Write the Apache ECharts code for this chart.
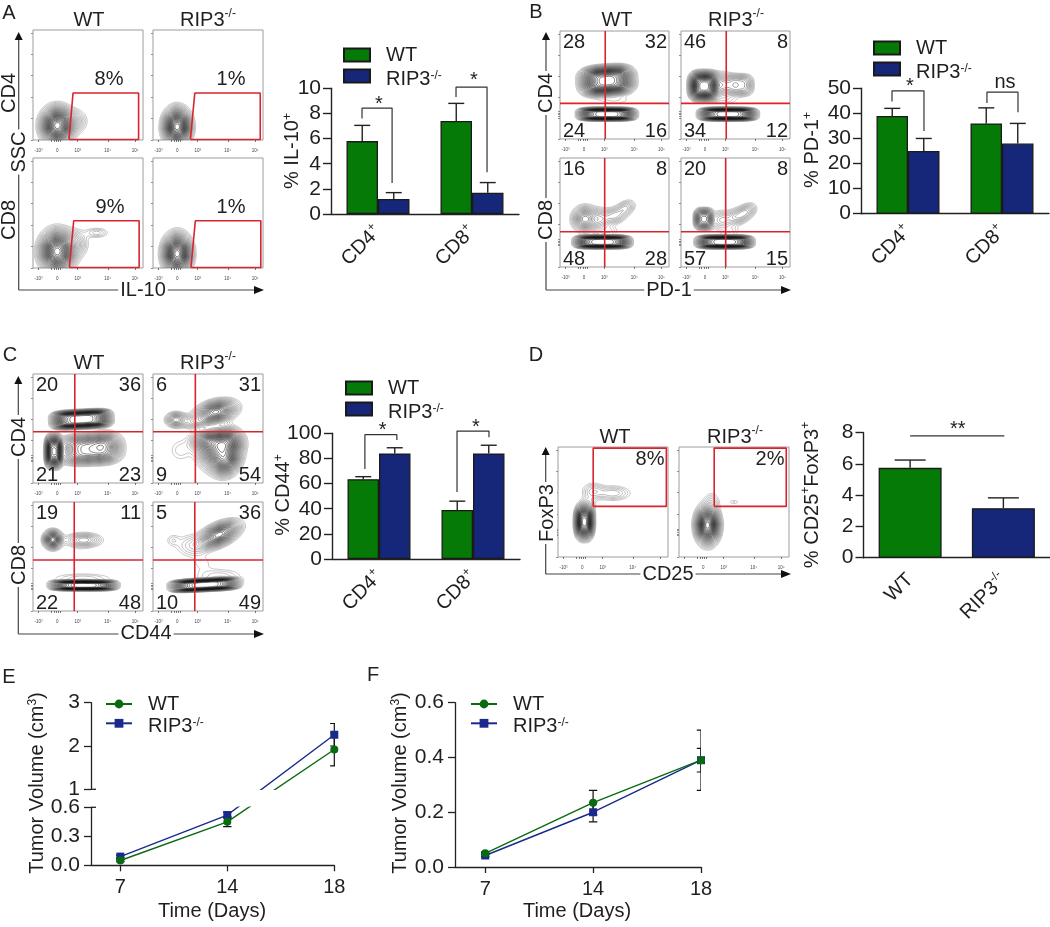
<!DOCTYPE html>
<html><head><meta charset="utf-8">
<style>html,body{margin:0;padding:0;background:#fff}#c{width:1050px;height:927px;filter:blur(0.35px)}</style>
<script src="https://cdn.jsdelivr.net/npm/echarts@6/dist/echarts.min.js"></script>
</head><body><div id="c"></div>
<script>
// ---------- DATA ----------
const barCats = ['CD4', 'CD8'];
const il10WT = [5.8, 7.4], il10WTTop = [7.05, 8.8], il10RIP = [1.2, 1.7], il10RIPTop = [1.7, 2.5];
const pd1WT = [39, 36], pd1WTTop = [42, 42.2], pd1RIP = [25, 28], pd1RIPTop = [30, 36];
const cd44WT = [63.5, 39], cd44WTTop = [65.5, 46], cd44RIP = [84, 84], cd44RIPTop = [88.5, 90.5];
const tregCats = ['WT', 'RIP3'];
const tregVals = [5.75, 3.17], tregTop = [6.25, 3.83];
const il10Brackets = [[[0.33, 7.6], [0.33, 8.43], [0.65, 8.43], [0.65, 2.46]], [[1.33, 9.3], [1.33, 10.1], [1.66, 10.1], [1.66, 3.33]]];
const pd1Brackets = [[[0.33, 44.7], [0.33, 49], [0.67, 49], [0.67, 33]], [[1.34, 44.1], [1.34, 48.5], [1.67, 48.5], [1.67, 40.5]]];
const cd44Brackets = [[[0.35, 71.6], [0.35, 98.9], [0.69, 98.9], [0.69, 94.7]], [[1.33, 53.3], [1.33, 101.8], [1.67, 101.8], [1.67, 96.8]]];
const tregBracket = [[[0.5, 7.8], [1.51, 7.8]]];
const days = ['7', '14', '18'];
const eWT = [0.05, 0.45, 1.92], eWTErr = [0.012, 0.05, 0.38], eRIP = [0.09, 0.52, 2.26], eRIPErr = [0.012, 0.03, 0.26];
const fWT = [0.05, 0.235, 0.39], fWTErr = [0.005, 0.045, 0.11], fRIP = [0.042, 0.2, 0.39], fRIPErr = [0.004, 0.035, 0.043];
const flowTickVals = [5, 22, 40.6, 68, 93], flowTickText = ['-10³', '0', '10³', '10⁴', '10⁵'];
const flowXTicks = [5, 17, 19, 21, 23, 25, 40.6, 68, 93];
const flowYTicks = [0, 19.5, 39, 58.5, 78, 97];
// gates in plot units (0-100 on both axes)
const gateA1 = [[32.7, 0.5], [36.4, 42.7], [96, 42.7], [96, 0.5], [32.7, 0.5]];
const gateA2 = [[34, 0.5], [38, 42.7], [97.5, 42.7], [97.5, 0.5], [34, 0.5]];
const gateA3 = [[33, 0.5], [37, 43], [96.5, 43], [96.5, 0.5], [33, 0.5]];
const gateA4 = [[34.5, 0.5], [38.5, 43], [98, 43], [98, 0.5], [34.5, 0.5]];
const gateD1 = [[32, 46], [98.5, 46], [98.5, 99], [32, 99], [32, 46]];
const gateD2 = [[32, 46], [97.5, 46], [97.5, 99], [32, 99], [32, 46]];
// contour populations: cx, cy, sx, sy, weight, rotation, exponent
const popA1 = [[22, 13, 7, 8, 1, 0, 2], [36, 17, 7, 6, .12, 0, 2]];
const popA2 = [[22, 12, 6, 8, 1, 0, 2]];
const popA3 = [[22, 15, 7.5, 9, 1, 0, 2], [38, 22, 6.5, 7, .12, 0, 2], [58, 32, 6.5, 2.8, .06, 0, 2]];
const popA4 = [[22, 13, 6.2, 8.5, 1, 0, 2]];
const popB1 = [[43, 54, 14.5, 8, 1, 4, 3], [43, 23, 17.5, 4, 1, 0, 4], [50, 36, 12, 3, .03, 0, 2]];
const popB2 = [[21, 49, 8, 8, 1, 0, 3], [38, 50, 6, 6, .2, 0, 2], [54, 50, 8, 6.5, .2, 0, 3], [43, 23, 17.5, 4, 1, 0, 4], [40, 36, 10, 3, .03, 0, 2]];
const popB3 = [[23, 44, 6, 6, .32, 0, 2], [37, 44, 5.5, 5.5, .12, 0, 2], [50, 47, 6, 4.2, .12, 15, 2], [60, 54, 5.5, 3.7, .1, 30, 2], [39, 23, 17, 4, 1, 0, 4], [45, 33, 6, 3, .04, 0, 2]];
const popB4 = [[21, 44, 5.5, 6, .45, 0, 3], [37, 43, 5.5, 5, .1, 0, 2], [51, 46, 6, 4.2, .12, 15, 2], [60, 51, 5.5, 3.7, .12, 30, 2], [40, 23, 17, 4, 1, 0, 4], [45, 33, 6, 3, .04, 0, 2]];
const popC1 = [[44, 58.5, 18, 5.6, 1, 3, 4], [19, 29, 4.8, 9, .9, 0, 3], [52, 31, 17, 8.5, .5, 3, 3], [67, 34, 7, 7, .15, 0, 2]];
const popC2 = [[21, 58, 5, 3.6, .32, 0, 2], [57, 65, 9.5, 5, .8, 15, 2], [60, 30, 9, 9, 1, 0, 2], [68, 38, 7, 6, .6, 0, 2], [66, 20, 6, 7, .6, -25, 2], [50, 38, 8, 5, .5, 0, 2], [25, 30, 7, 7, .05, 0, 2], [38, 56, 7, 3.5, .15, 0, 2]];
const popC3 = [[18, 65.5, 4.2, 4.2, .55, 0, 2], [46, 65, 9, 3.6, .16, 0, 2], [46, 23.5, 20, 3.1, 1, 0, 4], [45, 30, 18, 3, .05, 0, 2], [40, 50, 8, 5, .02, 0, 2]];
const popC4 = [[60, 70, 10, 4.8, .6, 25, 2], [18, 65, 4, 3.5, .035, 0, 2], [35, 60, 9, 6.5, .06, 0, 2], [47, 24, 20.7, 3.8, 1, 3, 4], [60, 32, 14, 4.5, .05, 0, 2], [45, 44, 7, 5, .025, 0, 2]];
const popD1 = [[24, 32, 4.6, 8.5, 1, 0, 2.5], [50, 58, 9.5, 4, .08, 0, 2], [32, 60, 6, 4.5, .07, 0, 2], [28, 48, 4, 5, .05, 0, 2]];
const popD2 = [[26, 29, 5.2, 8.2, 1, 0, 2], [30, 50, 4.5, 5.5, .05, 0, 2], [50, 50, 4, 1.5, .03, 0, 2]];

// ---------- STYLE ----------
const FONT = '"Liberation Sans", Arial, sans-serif', INK = '#1f1f1f';
const GREEN = '#067a06', NAVY = '#16277a', RED = '#d9242c', LGREEN = '#0a6a12', LNAVY = '#1a2a8c';
const option = { animation: false, backgroundColor: '#fff', grid: [], xAxis: [], yAxis: [], series: [], legend: [], graphic: { elements: [] } };
const G = option.graphic.elements;
const richBase = {
  a: { fontSize: 20, lineHeight: 24, fontFamily: FONT, color: INK },
  s: { fontSize: 12, lineHeight: 12, fontFamily: FONT, color: INK, verticalAlign: 'top' }
};
function txt(x, y, text, o) {
  o = o || {};
  G.push({ type: 'text', x, y, rotation: o.rot || 0, z: 100, silent: true, style: Object.assign({
    text, font: (o.size || 20) + 'px ' + FONT, fill: INK, align: o.align || 'center', verticalAlign: 'middle', rich: richBase
  }, o.white ? { backgroundColor: '#fff', padding: [0, 2] } : {}) });
}
const sup = (b, s) => '{a|' + b + '}{s|' + s + '}';
function gLine(x1, y1, x2, y2, col, w) {
  G.push({ type: 'line', z: 50, silent: true, shape: { x1, y1, x2, y2 }, style: { stroke: col || '#444', lineWidth: w || 1.2 } });
}
function arrows(x, yBottom, yTop, xRight) {
  gLine(x, yBottom, x, yTop + 6); gLine(x, yBottom, xRight - 8, yBottom);
  G.push({ type: 'polygon', z: 50, silent: true, shape: { points: [[x, yTop - 1], [x - 4, yTop + 7], [x + 4, yTop + 7]] }, style: { fill: '#111' } });
  G.push({ type: 'polygon', z: 50, silent: true, shape: { points: [[xRight + 1, yBottom], [xRight - 9, yBottom - 4], [xRight - 9, yBottom + 4]] }, style: { fill: '#111' } });
}
function addGrid(g) { option.grid.push(g); return option.grid.length - 1; }
function addX(a) { option.xAxis.push(a); return option.xAxis.length - 1; }
function addY(a) { option.yAxis.push(a); return option.yAxis.length - 1; }

// ---------- CONTOURS (marching squares on a mixture field) ----------
function field(pop) {
  const N = 100, f = [];
  let mx = 0;
  for (let j = 0; j <= N; j++) {
    const row = [];
    for (let i = 0; i <= N; i++) {
      let v = 0;
      for (const c of pop) {
        const r = (c[5] || 0) * Math.PI / 180, dx = i - c[0], dy = j - c[1], p = c[6] || 2;
        const u = Math.abs((dx * Math.cos(r) + dy * Math.sin(r)) / c[2]), w = Math.abs((-dx * Math.sin(r) + dy * Math.cos(r)) / c[3]);
        v += c[4] * Math.exp(-0.5 * (Math.pow(u, p) + Math.pow(w, p)));
      }
      row.push(v); if (v > mx) mx = v;
    }
    f.push(row);
  }
  return { f, mx, N };
}
function contourRender(pop) {
  const F = field(pop);
  return function (params, api) {
    const ch = [], LV = 34, K0 = 5;
    const P = (x, y) => { const p = api.coord([x, y]); return p[0].toFixed(2) + ' ' + p[1].toFixed(2); };
    for (let k = K0; k <= LV; k++) {
      const t = k / (LV + 1), lev = F.mx * t * t;
      let d = '';
      const cross = (a, b) => (lev - a) / (b - a);
      for (let j = 0; j < F.N; j++) for (let i = 0; i < F.N; i++) {
        const a = F.f[j][i], b = F.f[j][i + 1], c = F.f[j + 1][i + 1], e = F.f[j + 1][i];
        const idx = (a > lev ? 1 : 0) | (b > lev ? 2 : 0) | (c > lev ? 4 : 0) | (e > lev ? 8 : 0);
        if (idx === 0 || idx === 15) continue;
        const pts = [];
        if ((a > lev) !== (b > lev)) pts.push([i + cross(a, b), j]);
        if ((b > lev) !== (c > lev)) pts.push([i + 1, j + cross(b, c)]);
        if ((e > lev) !== (c > lev)) pts.push([i + cross(e, c), j + 1]);
        if ((a > lev) !== (e > lev)) pts.push([i, j + cross(a, e)]);
        for (let q = 0; q + 1 < pts.length; q += 2) d += 'M' + P(pts[q][0], pts[q][1]) + 'L' + P(pts[q + 1][0], pts[q + 1][1]);
      }
      if (!d) continue;
      const g = Math.round(185 - 165 * Math.min(1, k / (LV * 0.75)));
      ch.push({ type: 'path', silent: true, shape: { pathData: d }, style: { fill: 'none', stroke: 'rgb(' + g + ',' + g + ',' + g + ')', lineWidth: 0.55 } });
    }
    return { type: 'group', children: ch };
  };
}
function flowPanel(l, t, w, h, pop, over, yCluster) {
  const gi = addGrid({ left: l, top: t, width: w, height: h, show: true, borderColor: '#9c9c9c', borderWidth: 1, backgroundColor: '#fff' });
  const xi = addX({ type: 'value', gridIndex: gi, min: 0, max: 100, splitLine: { show: false }, axisLine: { show: false },
    axisTick: { show: true, length: 2, customValues: flowXTicks, lineStyle: { color: '#555', width: 0.8 } },
    axisLabel: { show: true, margin: 8, fontSize: 4.5, color: '#444', fontFamily: FONT, customValues: flowTickVals,
      formatter: v => flowTickText[flowTickVals.indexOf(v)] } });
  const yi = addY({ type: 'value', gridIndex: gi, min: 0, max: 100, splitLine: { show: false }, axisLine: { show: false },
    axisLabel: { show: false },
    axisTick: { show: true, length: 2, customValues: yCluster ? flowYTicks.concat([21, 22.5, 24, 25.5]) : flowYTicks, lineStyle: { color: '#777', width: 0.8 } } });
  option.series.push({ type: 'custom', xAxisIndex: xi, yAxisIndex: yi, coordinateSystem: 'cartesian2d', silent: true, data: [[0, 0]], renderItem: contourRender(pop), z: 2 });
  over.forEach(o => option.series.push({ type: 'line', xAxisIndex: xi, yAxisIndex: yi, data: o, symbol: 'none', silent: true, clip: false, z: 5,
    lineStyle: { color: RED, width: 1.6 } }));
}
function corners(l, t, w, h, q) {
  txt(l + 3, t + 11, String(q[0]), { align: 'left' });
  txt(l + w - 2, t + 11, String(q[1]), { align: 'right' });
  txt(l + 3, t + h - 8, String(q[2]), { align: 'left' });
  txt(l + w - 2, t + h - 8, String(q[3]), { align: 'right' });
}
const quad = (vx, hy) => [[[vx, 0], [vx, 100]], [[0, hy], [100, hy]]];

// Panel A
flowPanel(33, 30, 110, 110, popA1, [gateA1]);
flowPanel(153, 30, 110, 110, popA2, [gateA2]);
flowPanel(33, 158, 110, 110, popA3, [gateA3]);
flowPanel(153, 158, 110, 110, popA4, [gateA4]);
arrows(18.7, 290, 33, 263);
txt(9, 93, 'CD4', { rot: Math.PI / 2 }); txt(9, 220, 'CD8', { rot: Math.PI / 2 });
txt(19, 152, 'SSC', { rot: Math.PI / 2, white: 1 }); txt(143, 290, 'IL-10', { white: 1 });
txt(89, 20, 'WT'); txt(208, 20, sup('RIP3', '-/-'));
txt(109, 79, '8%'); txt(231, 79, '1%'); txt(110, 207, '9%'); txt(231, 207, '1%');
txt(9, 13, 'A');

// Panel B
flowPanel(560, 31, 109, 108, popB1, quad(41.5, 33), 1);
flowPanel(681, 31, 109, 108, popB2, quad(41.5, 33), 1);
flowPanel(560, 158, 109, 109, popB3, quad(41, 32.4), 1);
flowPanel(681, 158, 109, 109, popB4, quad(41, 32.4), 1);
arrows(546, 290, 33, 790);
txt(546, 93, 'CD4', { rot: Math.PI / 2, white: 1 }); txt(546, 220, 'CD8', { rot: Math.PI / 2, white: 1 });
txt(669, 290, 'PD-1', { white: 1 });
txt(617, 20, 'WT'); txt(736, 20, sup('RIP3', '-/-'));
corners(560, 31, 109, 108, [28, 32, 24, 16]); corners(681, 31, 109, 108, [46, 8, 34, 12]);
corners(560, 158, 109, 109, [16, 8, 48, 28]); corners(681, 158, 109, 109, [20, 8, 57, 15]);
txt(536, 12, 'B');

// Panel C
flowPanel(33, 374, 110, 109, popC1, quad(38, 47), 1);
flowPanel(153, 374, 110, 109, popC2, quad(38.5, 47), 1);
flowPanel(33, 502, 110, 109, popC3, quad(37.5, 46.8), 1);
flowPanel(153, 502, 110, 109, popC4, quad(38, 46.8), 1);
arrows(18.3, 634, 377, 263);
txt(19, 437, 'CD4', { rot: Math.PI / 2, white: 1 }); txt(19, 565, 'CD8', { rot: Math.PI / 2, white: 1 });
txt(146, 633, 'CD44', { white: 1 });
txt(89, 363, 'WT'); txt(208, 363, sup('RIP3', '-/-'));
corners(33, 374, 110, 109, [20, 36, 21, 23]); corners(153, 374, 110, 109, [6, 31, 9, 54]);
corners(33, 502, 110, 109, [19, 11, 22, 48]); corners(153, 502, 110, 109, [5, 36, 10, 49]);
txt(10, 355, 'C');

// Panel D
flowPanel(558, 447, 110, 110, popD1, [gateD1], 1);
flowPanel(679, 447, 110, 110, popD2, [gateD2], 1);
arrows(545.7, 574, 448, 790);
txt(547, 513, 'FoxP3', { rot: Math.PI / 2, white: 1 }); txt(668, 574, 'CD25', { white: 1 });
txt(615, 437, 'WT'); txt(735, 437, sup('RIP3', '-/-'));
txt(650, 459, '8%'); txt(770, 459, '2%');
txt(536, 355, 'D');

// ---------- BARS ----------
function errSeries(xi, yi, vals, tops, off, half) {
  option.series.push({ type: 'custom', xAxisIndex: xi, yAxisIndex: yi, silent: true, z: 4, clip: false,
    data: vals.map((v, i) => [i, v, tops[i]]), encode: { x: 0, y: [1, 2] },
    renderItem: (p, api) => {
      const a = api.coord([api.value(0), api.value(1)]), b = api.coord([api.value(0), api.value(2)]);
      const s = { stroke: '#222', lineWidth: 1.4 };
      return { type: 'group', children: [
        { type: 'line', shape: { x1: a[0] + off, y1: a[1], x2: a[0] + off, y2: b[1] }, style: s },
        { type: 'line', shape: { x1: a[0] + off - half, y1: b[1], x2: a[0] + off + half, y2: b[1] }, style: s }] };
    } });
}
function barAxes(l, t, w, h, max, interval, cats, labelFmt, xMargin) {
  const gi = addGrid({ left: l, top: t, width: w, height: h });
  const xi = addX({ type: 'category', gridIndex: gi, data: cats,
    axisLine: { lineStyle: { color: '#222', width: 1.4 } }, axisTick: { alignWithLabel: true, length: 6, lineStyle: { color: '#222', width: 1.4 } },
    axisLabel: { interval: 0, rotate: 45, margin: xMargin, formatter: labelFmt, rich: richBase, fontFamily: FONT, fontSize: 20, color: INK } });
  const xv = addX({ type: 'value', gridIndex: gi, min: 0, max: 2, show: false, splitLine: { show: false } });
  const yi = addY({ type: 'value', gridIndex: gi, min: 0, max, interval, splitLine: { show: false },
    axisLine: { show: true, lineStyle: { color: '#222', width: 1.4 } }, axisTick: { show: true, length: 8, lineStyle: { color: '#222', width: 1.4 } },
    axisLabel: { margin: 10, fontSize: 21, fontFamily: FONT, color: INK } });
  return { xi, xv, yi };
}
function brackets(ax, list) {
  list.forEach(b => option.series.push({ type: 'line', xAxisIndex: ax.xv, yAxisIndex: ax.yi, data: b, symbol: 'none', silent: true, clip: false, z: 6, lineStyle: { color: '#333', width: 1.2 } }));
}
const plusLabel = v => sup(v, '+');
function groupedBars(l, t, h, max, interval, wt, wtTop, rip, ripTop, br) {
  const ax = barAxes(l, t, 188, h, max, interval, barCats, plusLabel, 15);
  const st = c => ({ color: c, borderColor: '#1a1a1a', borderWidth: 1.3 });
  option.series.push({ name: 'WT', type: 'bar', xAxisIndex: ax.xi, yAxisIndex: ax.yi, data: wt, barWidth: 31.5, barGap: 0, itemStyle: st(GREEN), silent: true });
  option.series.push({ name: 'RIP3', type: 'bar', xAxisIndex: ax.xi, yAxisIndex: ax.yi, data: rip, barWidth: 31.5, barGap: 0, itemStyle: st(NAVY), silent: true });
  errSeries(ax.xi, ax.yi, wt, wtTop, -15.75, 8);
  errSeries(ax.xi, ax.yi, rip, ripTop, 15.75, 8);
  brackets(ax, br);
}
const legendText = { fontSize: 20, fontFamily: FONT, color: INK, rich: {
  a: { fontSize: 20, lineHeight: 13, fontFamily: FONT, color: INK, padding: [0, 0, 0, 11] },
  b: { fontSize: 20, lineHeight: 13, fontFamily: FONT, color: INK, padding: [6, 0, 0, 11] },
  s: { fontSize: 12, lineHeight: 10, fontFamily: FONT, color: INK, verticalAlign: 'top' } } };
const legendFmt = n => n.indexOf('WT') === 0 ? '{a|WT}' : '{b|RIP3}{s|-/-}';
function barLegend(l, t) {
  option.legend.push({ left: l, top: t, orient: 'vertical', padding: 0, icon: 'rect', itemWidth: 26, itemHeight: 13, itemGap: -2, selectedMode: false, data: ['WT', 'RIP3'], formatter: legendFmt, textStyle: legendText });
}
groupedBars(331, 88.3, 125.7, 10, 2, il10WT, il10WTTop, il10RIP, il10RIPTop, il10Brackets);
barLegend(343, 45);
txt(379, 104, '*'); txt(474, 80, '*');
txt(292, 151, '% IL-10{s|+}', { rot: Math.PI / 2 });
groupedBars(861, 88.3, 125.4, 50, 10, pd1WT, pd1WTTop, pd1RIP, pd1RIPTop, pd1Brackets);
barLegend(873, 38);
txt(910, 86, '*'); txt(1005, 82, 'ns');
txt(812, 150, '% PD-1{s|+}', { rot: Math.PI / 2 });
groupedBars(332, 433.3, 125.7, 100, 20, cd44WT, cd44WTTop, cd44RIP, cd44RIPTop, cd44Brackets);
barLegend(345, 378);
txt(382.7, 430, '*'); txt(476, 427, '*');
txt(283, 495, '% CD44{s|+}', { rot: Math.PI / 2 });
// single-series bars in D
(function () {
  const ax = barAxes(863.5, 432.7, 188, 125, 8, 2, tregCats, v => v === 'WT' ? '{a|WT}' : sup('RIP3', '-/-'), 19);
  option.series.push({ type: 'bar', xAxisIndex: ax.xi, yAxisIndex: ax.yi, barWidth: 63, silent: true,
    itemStyle: { borderColor: '#1a1a1a', borderWidth: 1.3 },
    data: [{ value: tregVals[0], itemStyle: { color: GREEN } }, { value: tregVals[1], itemStyle: { color: NAVY } }] });
  errSeries(ax.xi, ax.yi, tregVals, tregTop, 0, 15.5);
  brackets(ax, tregBracket);
})();
txt(957.7, 429, '**');
txt(812, 495, '% CD25{s|+}{a|FoxP3}{s|+}', { rot: Math.PI / 2 });

// ---------- LINES ----------
function lineErr(xi, yi, vals, errs) {
  option.series.push({ type: 'custom', xAxisIndex: xi, yAxisIndex: yi, silent: true, z: 3, clip: true,
    data: vals.map((v, i) => [i, v - errs[i], v + errs[i]]), encode: { x: 0, y: [1, 2] },
    renderItem: (p, api) => {
      const a = api.coord([api.value(0), api.value(1)]), b = api.coord([api.value(0), api.value(2)]);
      const s = { stroke: '#111', lineWidth: 1.2 }, hw = 4.2;
      return { type: 'group', children: [
        { type: 'line', shape: { x1: a[0], y1: a[1], x2: a[0], y2: b[1] }, style: s },
        { type: 'line', shape: { x1: a[0] - hw, y1: a[1], x2: a[0] + hw, y2: a[1] }, style: s },
        { type: 'line', shape: { x1: a[0] - hw, y1: b[1], x2: a[0] + hw, y2: b[1] }, style: s }] };
    } });
}
const lineAxisStyle = { color: '#222', width: 1.3 };
function lineXAxis(gi, minX) {
  return addX({ type: 'value', gridIndex: gi, min: minX, max: 2, splitLine: { show: false },
    axisLine: { show: true, lineStyle: lineAxisStyle, onZero: false }, axisTick: { show: true, length: 6, customValues: [0, 1, 2], lineStyle: lineAxisStyle },
    axisLabel: { show: true, customValues: [0, 1, 2], formatter: v => days[v], fontSize: 20, fontFamily: FONT, color: INK, margin: 12 } });
}
function lineYAxis(gi, min, max, vals, fmt) {
  return addY({ type: 'value', gridIndex: gi, min, max, splitLine: { show: false },
    axisLine: { show: true, lineStyle: lineAxisStyle, onZero: false }, axisTick: { show: true, length: 7, customValues: vals, lineStyle: lineAxisStyle },
    axisLabel: { customValues: vals, formatter: fmt, margin: 11, fontSize: 21, fontFamily: FONT, color: INK } });
}
function lineSeries(name, xi, yi, pts, color, symbol, z) {
  option.series.push({ name, type: 'line', xAxisIndex: xi, yAxisIndex: yi, data: pts, symbol, symbolSize: 8, clip: true, silent: true, z,
    lineStyle: { color, width: 1.4 }, itemStyle: { color } });
}
function lineLegend(l, t) {
  option.legend.push({ left: l, top: t, orient: 'vertical', padding: 0, itemWidth: 26, itemHeight: 11, itemGap: -3.7, selectedMode: false, data: ['WT line', 'RIP3 line'], formatter: legendFmt, textStyle: legendText });
}
// Panel E : broken y axis, two stacked grids
const loPx = 58, upPx = 86.6, gapPx = 18, loMax = 0.6, upMin = 1, upMax = 3;
const toLower = v => v <= loMax ? v : (loPx + gapPx + (v - upMin) * upPx / (upMax - upMin)) / loPx * loMax;
const toUpper = v => v >= upMin ? v : upMin + (v / loMax * loPx - loPx - gapPx) * (upMax - upMin) / upPx;
const eGridUp = addGrid({ left: 91, top: 702.7, width: 243.3, height: upPx });
const eGridLo = addGrid({ left: 91, top: 807.3, width: 243.3, height: loPx });
const exu = addX({ type: 'value', gridIndex: eGridUp, min: -0.274, max: 2, show: false, splitLine: { show: false } });
const eyu = lineYAxis(eGridUp, upMin, upMax, [1, 2, 3], v => String(v));
const exl = lineXAxis(eGridLo, -0.274);
const eyl = lineYAxis(eGridLo, 0, loMax, [0, 0.3, 0.6], v => v.toFixed(1));
const offLow = (vals) => vals.map((v, i) => v <= loMax ? [i, v] : { value: [i, toLower(v)], symbol: 'none' });
const offUp = (vals) => vals.map((v, i) => v >= upMin ? [i, v] : { value: [i, toUpper(v)], symbol: 'none' });
lineErr(exu, eyu, eWT, eWTErr); lineErr(exu, eyu, eRIP, eRIPErr);
lineErr(exl, eyl, eWT.slice(0, 2), eWTErr); lineErr(exl, eyl, eRIP.slice(0, 2), eRIPErr);
lineSeries('RIP3 line', exu, eyu, offUp(eRIP), LNAVY, 'rect', 6);
lineSeries('WT line', exu, eyu, offUp(eWT), LGREEN, 'circle', 7);
lineSeries('RIP3 line', exl, eyl, offLow(eRIP), LNAVY, 'rect', 6);
lineSeries('WT line', exl, eyl, offLow(eWT), LGREEN, 'circle', 7);
lineLegend(105, 694);
gLine(91, 789.3, 96, 789.3, '#222', 1.3); gLine(91, 807.3, 96, 807.3, '#222', 1.3);
txt(37, 783, 'Tumor Volume (cm{s|3})', { rot: Math.PI / 2 });
txt(212, 911.5, 'Time (Days)');
txt(9, 677, 'E');
// Panel F
const fGrid = addGrid({ left: 455, top: 702.7, width: 246, height: 164.3 });
const fx = lineXAxis(fGrid, -0.28);
const fy = lineYAxis(fGrid, 0, 0.6, [0, 0.2, 0.4, 0.6], v => v.toFixed(1));
lineErr(fx, fy, fWT, fWTErr); lineErr(fx, fy, fRIP, fRIPErr);
lineSeries('RIP3 line', fx, fy, fRIP.map((v, i) => [i, v]), LNAVY, 'rect', 6);
lineSeries('WT line', fx, fy, fWT.map((v, i) => [i, v]), LGREEN, 'circle', 7);
lineLegend(470, 694);
txt(400, 783, 'Tumor Volume (cm{s|3})', { rot: Math.PI / 2 });
txt(577, 911.5, 'Time (Days)');
txt(373, 675, 'F');

const chart = echarts.init(document.getElementById('c'), null, { renderer: 'canvas', width: 1050, height: 927 });
chart.setOption(option);
</script></body></html>
